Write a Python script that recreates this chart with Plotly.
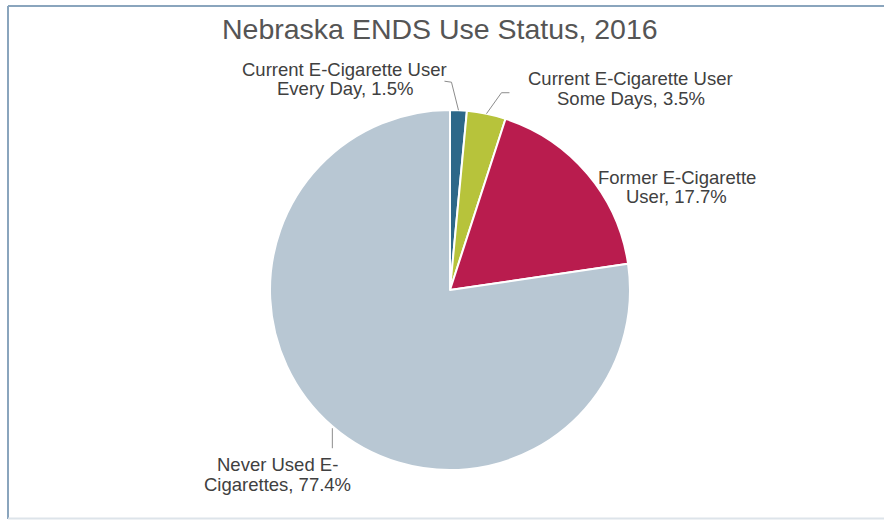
import math
import plotly.graph_objects as go

categories = ["Current E-Cigarette User Every Day", "Current E-Cigarette User Some Days",
              "Former E-Cigarette User", "Never Used E-Cigarettes"]
values = [1.5, 3.5, 17.7, 77.4]
label_lines = [["Current E-Cigarette User", "Every Day, 1.5%"],
               ["Current E-Cigarette User", "Some Days, 3.5%"],
               ["Former E-Cigarette", "User, 17.7%"],
               ["Never Used E-", "Cigarettes, 77.4%"]]
title_text = "Nebraska ENDS Use Status, 2016"
colors = ["#2d6889", "#b7c33b", "#b91c4e", "#b8c7d3"]

W, H = 884, 521
cx, cy, R = 450, 290, 180  # pixel geometry of the pie

def px(x):
    return x / W

def py(y):
    return 1 - y / H

fig = go.Figure(go.Pie(
    labels=categories, values=values, sort=False, direction="clockwise", rotation=0,
    marker=dict(colors=colors, line=dict(color="white", width=2)),
    textinfo="none", hoverinfo="label+percent", showlegend=False,
    domain=dict(x=[px(cx - R), px(cx + R)], y=[py(cy + R), py(cy - R)]),
))

# label line centres (pixel) and leader offsets from the slice edge
label_cx = [344.5, 630.5, 676.5, 277.5]
label_cy = [[68, 87.5], [77.5, 97], [176, 195.5], [463.5, 483]]
leaders = [[(-7, -28), (-14, -29)], [(15, -21), (23, -21)], None, [(0, 2), (0, 22)]]

FONT = "Liberation Sans, Arial, Helvetica, sans-serif"
total = sum(values)
cum = 0
shapes = []
annotations = []
for v, lines, lx, lys, ld in zip(values, label_lines, label_cx, label_cy, leaders):
    mid = (cum + v / 2) / total * 2 * math.pi
    cum += v
    ex = cx + R * math.sin(mid)
    ey = cy - R * math.cos(mid)
    if ld:
        if ld[0] == (0, 2):
            pts = [(ex + dx, ey + dy) for dx, dy in ld]
        else:
            pts = [(ex, ey)] + [(ex + dx, ey + dy) for dx, dy in ld]
        path = "M " + " L ".join(f"{px(a)},{py(b)}" for a, b in pts)
        shapes.append(dict(type="path", xref="paper", yref="paper", path=path,
                           line=dict(color="#8c8c8c", width=1)))
    for line, ly in zip(lines, lys):
        annotations.append(dict(x=px(lx), y=py(ly + 1), xref="paper", yref="paper",
                                text=line, showarrow=False, align="center",
                                xanchor="center", yanchor="middle",
                                font=dict(family=FONT, size=18.5, color="#404040")))

annotations.append(dict(x=px(439.5), y=py(29), xref="paper", yref="paper",
                        text=title_text, showarrow=False,
                        xanchor="center", yanchor="middle",
                        font=dict(family=FONT, size=28.5, color="#555555")))

# chart frame: blue left/top edges, pale bottom edge
shapes.append(dict(type="line", xref="paper", yref="paper",
                   x0=px(8), x1=px(8), y0=py(519), y1=py(6),
                   line=dict(color="#8aa5bd", width=2), layer="below"))
shapes.append(dict(type="line", xref="paper", yref="paper",
                   x0=px(8), x1=1.0, y0=py(6), y1=py(6),
                   line=dict(color="#8aa5bd", width=2), layer="below"))
shapes.append(dict(type="line", xref="paper", yref="paper",
                   x0=px(8), x1=1.0, y0=py(518.5), y1=py(518.5),
                   line=dict(color="#dde4ea", width=2), layer="below"))

fig.update_layout(width=W, height=H, margin=dict(l=0, r=0, t=0, b=0),
                  paper_bgcolor="white", plot_bgcolor="white",
                  shapes=shapes, annotations=annotations)
fig.write_html("out.html", config={"displayModeBar": False},
               post_script="document.body.style.margin='0';document.body.style.overflow='hidden';")
